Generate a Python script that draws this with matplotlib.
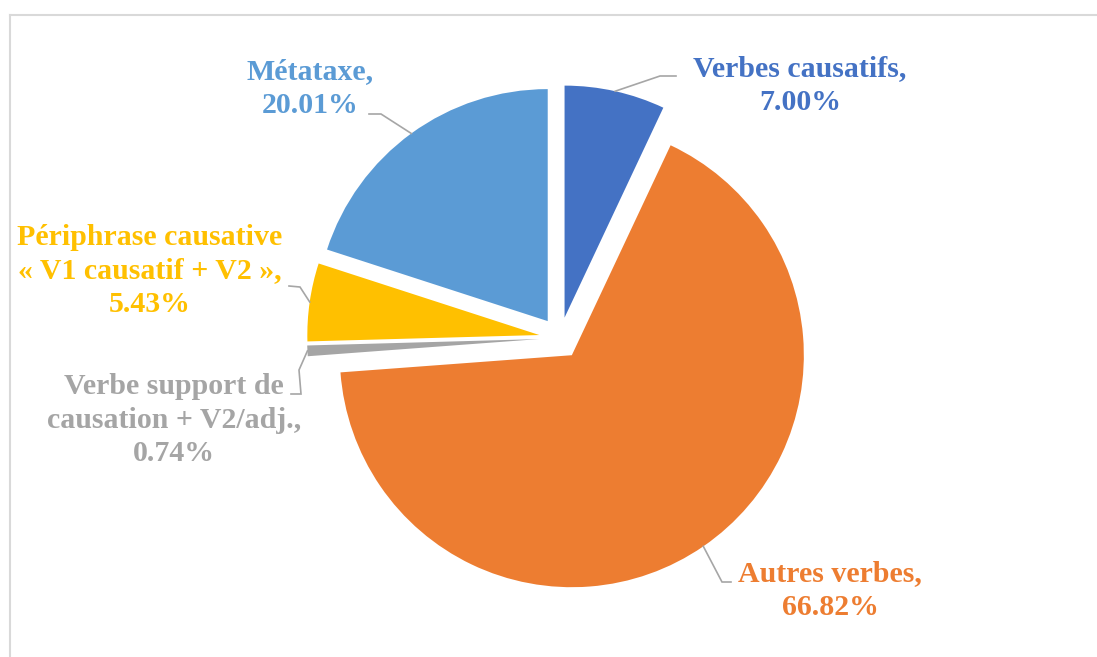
import numpy as np
import matplotlib
matplotlib.use("Agg")
import matplotlib.pyplot as plt
from matplotlib.lines import Line2D

labels = ["Verbes causatifs", "Autres verbes", "Verbe support de\ncausation + V2/adj.",
          "Périphrase causative\n« V1 causatif + V2 »", "Métataxe"]
values = [7.00, 66.82, 0.74, 5.43, 20.01]
colors = ["#4472C4", "#ED7D31", "#A5A5A5", "#FFC000", "#5B9BD5"]

W, H = 1097, 657
R = 232
fig = plt.figure(figsize=(W / 100, H / 100), dpi=100)
ax = fig.add_axes([0, 0, 1, 1])

# explode is in data units here (axes are in pixels)
wedges, _ = ax.pie(values, colors=colors, startangle=90, counterclock=False,
                   explode=[0.09 * R] * len(values), center=(560, H - 338), radius=R,
                   wedgeprops=dict(linewidth=0))
ax.set_xlim(0, W)
ax.set_ylim(0, H)
ax.set_aspect("equal")
ax.axis("off")

# label layout (pixel positions, measured from top-left)
text_pos = [(800, 86), (830, 591), (174, 420), (150, 271), (310, 89)]
elbows = [[(660, 76), (676, 76)],
          [(722, 582), (731, 582)],
          [(299, 370), (301, 394), (291, 394)],
          [(300, 287), (289, 286)],
          [(381, 114), (369, 114)]]

for w, lab, v, c, (tx, ty), elb in zip(wedges, labels, values, colors, text_pos, elbows):
    mid = np.deg2rad((w.theta1 + w.theta2) / 2)
    ax_x = w.center[0] + w.r * np.cos(mid)
    ax_y = w.center[1] + w.r * np.sin(mid)
    xs = [ax_x] + [p[0] for p in elb]
    ys = [ax_y] + [H - p[1] for p in elb]
    ax.plot(xs, ys, color="#A6A6A6", lw=1.2, solid_joinstyle="miter")
    ax.text(tx, H - ty, f"{lab},\n{v:.2f}%", color=c, ha="center", va="center",
            fontsize=21.5, fontweight="bold", family="Liberation Serif", linespacing=1.33)

# chart area frame
fig.add_artist(Line2D([10 / W, 1], [1 - 15 / H, 1 - 15 / H], color="#D9D9D9", lw=1.5))
fig.add_artist(Line2D([10 / W, 10 / W], [0, 1 - 15 / H], color="#D9D9D9", lw=1.5))

fig.savefig("out.png", dpi=100)
